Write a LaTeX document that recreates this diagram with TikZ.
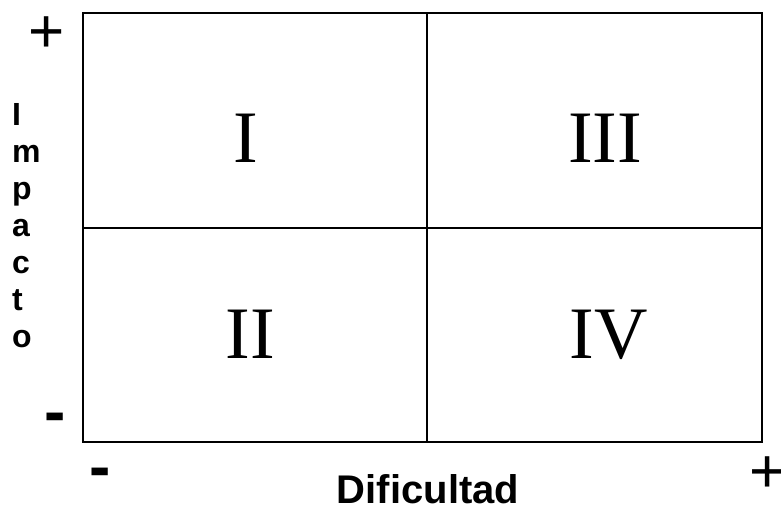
\documentclass[tikz,border=0pt]{standalone}
\usepackage{fontspec}
\setmainfont{Liberation Serif}
\newfontfamily\arialfont{Liberation Sans}
\usetikzlibrary{positioning}

\begin{document}
\begin{tikzpicture}[x=1pt,y=-1pt,
  every node/.style={inner sep=0pt},
  quad/.style={font=\fontsize{74}{74}\selectfont},
  axislbl/.style={font=\arialfont\bfseries\fontsize{32}{37}\selectfont},
  xlbl/.style={font=\arialfont\bfseries\fontsize{40}{44}\selectfont},
  hisign/.style={font=\arialfont\fontsize{62}{62}\selectfont},
  losign/.style={font=\arialfont\bfseries\fontsize{64}{64}\selectfont},
  frame/.style={draw=black,line width=2pt}]
\useasboundingbox[fill=white] (0,0) rectangle (781,511);
\coordinate (A) at (83,13);
\coordinate (D) at (762,442);
\coordinate (T) at (427,13);
\coordinate (Bo) at (427,442);
\coordinate (L) at (83,228);
\coordinate (R) at (762,228);

% outer frame plus the two dividers give the four quadrants
\draw[frame] (A) rectangle (D);
\foreach \u/\v in {T/Bo,L/R} \draw[frame] (\u) -- (\v);

\node[quad,anchor=base] (q1) at (246,162) {I};
\node[quad,anchor=base] (q3) at (605,162) {III};
\node[quad,anchor=base] (q2) at (250,358) {II};
\node[quad,anchor=base] (q4) at (609,358) {IV};

\foreach \ch [count=\k] in {I,m,p,a,c,t,o}
  \node[axislbl,anchor=base west] (imp\k) at (12,{125+37*(\k-1)}) {\ch};
\node[xlbl,anchor=base] (dif) at (428,503) {Dificultad};

\node[hisign] (ytop) at (47,35) {+};
\node[losign] (ybot) at (55,423) {-};
\node[losign] (xlow) at (100,478) {-};
\node[hisign] (xtop) at (768,475) {+};
\end{tikzpicture}
\end{document}
